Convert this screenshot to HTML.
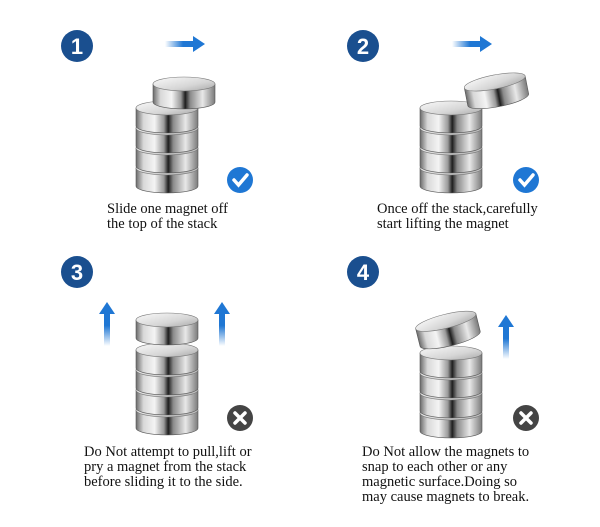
<!DOCTYPE html>
<html><head><style>
body{margin:0;width:600px;height:527px;background:#fff;overflow:hidden;font-family:"Liberation Serif",serif;}
svg{position:absolute;left:0;top:0}
.t{position:absolute;font-size:14.5px;line-height:15px;color:#111;font-family:"Liberation Serif",serif;white-space:nowrap}
</style></head><body>
<svg width="600" height="527" viewBox="0 0 600 527">
<defs>
<linearGradient id="side" x1="0" x2="1" y1="0" y2="0">
<stop offset="0" stop-color="#6a6a6a"/><stop offset="0.12" stop-color="#d8d8d8"/><stop offset="0.3" stop-color="#f4f4f4"/><stop offset="0.45" stop-color="#9a9a9a"/><stop offset="0.52" stop-color="#1e1e1e"/><stop offset="0.6" stop-color="#8a8a8a"/><stop offset="0.8" stop-color="#e8e8e8"/><stop offset="1" stop-color="#7a7a7a"/>
</linearGradient>
<linearGradient id="top" x1="0" x2="1" y1="0" y2="1">
<stop offset="0" stop-color="#fafafa"/><stop offset="0.6" stop-color="#d6d6d6"/><stop offset="1" stop-color="#a8a8a8"/>
</linearGradient>
<linearGradient id="arH" x1="0" x2="1"><stop offset="0" stop-color="#1f77d4" stop-opacity="0"/><stop offset="0.6" stop-color="#1f77d4"/></linearGradient>
<linearGradient id="arV" x1="0" x2="0" y1="1" y2="0"><stop offset="0" stop-color="#1f77d4" stop-opacity="0"/><stop offset="0.6" stop-color="#1f77d4"/></linearGradient>
<g id="d">
<path d="M0,7 L0,25 A31,7 0 0 0 62,25 L62,7 Z" fill="url(#side)" stroke="#555" stroke-width="0.6"/>
<ellipse cx="31" cy="7" rx="31" ry="7" fill="url(#top)" stroke="#777" stroke-width="0.6"/>
</g>
<g id="stack">
<use href="#d" y="80"/><use href="#d" y="60"/><use href="#d" y="40"/><use href="#d" y="20"/>
</g>
<g id="hr"><rect x="0" y="-3" width="30" height="6" fill="url(#arH)"/><path d="M28,-8 L40,0 L28,8Z" fill="#1f77d4"/></g>
<g id="vr"><rect x="-3" y="10" width="6" height="34" fill="url(#arV)"/><path d="M-8,12 L0,0 L8,12Z" fill="#1f77d4"/></g>
<g id="ok"><circle r="13" fill="#1f77d4"/><path d="M-6,0 L-1.5,5 L7,-5" stroke="#fff" stroke-width="3.5" fill="none" stroke-linecap="round"/></g>
<g id="no"><circle r="13" fill="#444"/><path d="M-5,-5 L5,5 M5,-5 L-5,5" stroke="#fff" stroke-width="3.5" stroke-linecap="round"/></g>
</defs>
<g font-family="Liberation Sans,sans-serif" font-weight="bold" font-size="22" fill="#fff" text-anchor="middle">
<circle cx="77" cy="46" r="16" fill="#1a4f8f"/><text x="77" y="54">1</text>
<circle cx="363" cy="46" r="16" fill="#1a4f8f"/><text x="363" y="54">2</text>
<circle cx="77" cy="272" r="16" fill="#1a4f8f"/><text x="77" y="280">3</text>
<circle cx="363" cy="272" r="16" fill="#1a4f8f"/><text x="363" y="280">4</text>
</g>
<use href="#hr" x="165" y="44"/><use href="#hr" x="452" y="44"/>
<use href="#vr" x="107" y="302"/><use href="#vr" x="222" y="302"/><use href="#vr" x="506" y="315"/>
<!-- panel1 -->
<use href="#stack" x="136" y="81"/>
<use href="#d" x="153" y="77"/>
<use href="#ok" x="240" y="180"/>
<!-- panel2 -->
<use href="#stack" x="420" y="81"/>
<g transform="translate(463,81) rotate(-11)"><use href="#d"/></g>
<use href="#ok" x="526" y="180"/>
<!-- panel3 -->
<use href="#stack" x="136" y="323"/>
<use href="#d" x="136" y="313"/>
<use href="#no" x="240" y="418"/>
<!-- panel4 -->
<use href="#stack" x="420" y="326"/>
<g transform="translate(414,322) rotate(-14)"><use href="#d"/></g>
<use href="#no" x="526" y="418"/>
</svg>
<div class="t" style="left:107px;top:202px">Slide one magnet off<br>the top of the stack</div>
<div class="t" style="left:377px;top:202px">Once off the stack,carefully<br>start lifting the magnet</div>
<div class="t" style="left:84px;top:445px">Do Not attempt to pull,lift or<br>pry a magnet from the stack<br>before sliding it to the side.</div>
<div class="t" style="left:362px;top:445px">Do Not allow the magnets to<br>snap to each other or any<br>magnetic surface.Doing so<br>may cause magnets to break.</div>
</body></html>
